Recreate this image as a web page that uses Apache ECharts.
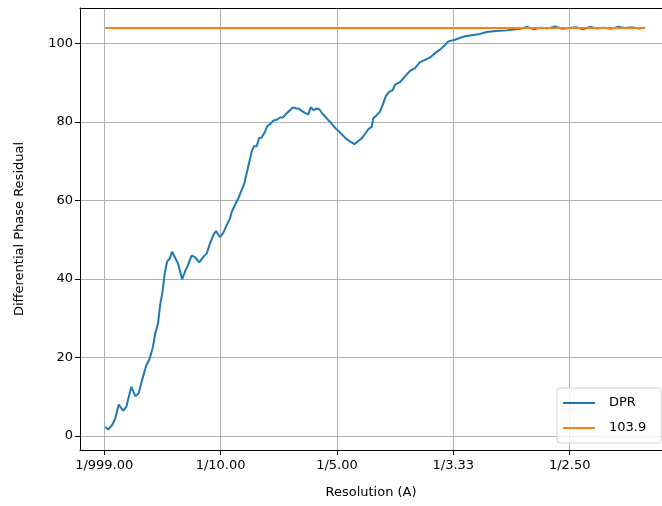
<!DOCTYPE html>
<html>
<head>
<meta charset="utf-8">
<script src="https://cdn.jsdelivr.net/npm/echarts@6/dist/echarts.min.js"></script>
<style>
  html, body { margin: 0; padding: 0; background: #fff; }
  #chart { width: 662px; height: 506px; }
</style>
</head>
<body>
<div id="chart"></div>
<script>
// spatial frequency (1/A)
var freq = [
  0.001, 0.0033, 0.0067, 0.0095, 0.0125, 0.0162, 0.0190, 0.0233, 0.0267, 0.0296,
  0.0325, 0.0362, 0.0391, 0.0419, 0.0439, 0.0462, 0.0482, 0.0499, 0.0520, 0.0540,
  0.0563, 0.0583, 0.0600, 0.0634, 0.0670, 0.0697, 0.0714, 0.0752, 0.0780, 0.0817,
  0.0852, 0.0881, 0.0909, 0.0937, 0.0961, 0.0995, 0.1023, 0.1053, 0.1081, 0.1096,
  0.1124, 0.1152, 0.1181, 0.1204, 0.1224, 0.1247, 0.1267, 0.1287, 0.1310, 0.1330,
  0.1353, 0.1382, 0.1401, 0.1425, 0.1453, 0.1487, 0.1511, 0.1534, 0.1562, 0.1591,
  0.1625, 0.1648, 0.1671, 0.1697, 0.1725, 0.1754, 0.1774, 0.1797, 0.1826, 0.1848,
  0.1877, 0.1912, 0.1946, 0.1983, 0.2012, 0.2049, 0.2084, 0.2118, 0.2149, 0.2175,
  0.2213, 0.2241, 0.2269, 0.2298, 0.2312, 0.2341, 0.2370, 0.2398, 0.2421, 0.2450,
  0.2479, 0.2499, 0.2542, 0.2585, 0.2628, 0.2671, 0.2714, 0.2757, 0.2800, 0.2843,
  0.2886, 0.2929, 0.2957, 0.3014, 0.3057, 0.3100, 0.3143, 0.3186, 0.3229, 0.3287,
  0.3343, 0.3401, 0.3459, 0.3515, 0.3573, 0.3633, 0.3693, 0.3753, 0.3813, 0.3873,
  0.3934, 0.3994, 0.4054, 0.4114, 0.4174, 0.4234, 0.4294, 0.4354, 0.4414, 0.4474,
  0.4534, 0.4594, 0.4647
];
var dpr = [
  2.3, 1.6, 2.7, 4.4, 8.0, 6.4, 7.4, 12.5, 10.1, 10.8,
  14.2, 18.0, 19.7, 22.7, 26.1, 28.6, 33.7, 36.3, 41.4, 44.3,
  45.2, 46.9, 47.3, 43.9, 39.9, 42.1, 43.1, 46.0, 45.5, 44.2,
  45.6, 46.5, 49.0, 51.1, 52.2, 50.6, 51.7, 53.7, 55.4, 57.1,
  58.8, 60.5, 62.6, 64.3, 66.9, 69.8, 72.4, 73.8, 73.8, 75.8,
  76.0, 77.5, 78.9, 79.4, 80.3, 80.6, 81.1, 81.1, 82.0, 82.8,
  83.7, 83.4, 83.4, 82.8, 82.3, 81.9, 83.7, 83.0, 83.4, 83.2,
  82.0, 80.9, 79.8, 78.5, 77.7, 76.6, 75.6, 74.9, 74.3, 74.9,
  75.8, 76.9, 78.1, 78.7, 80.9, 81.7, 82.6, 84.7, 86.6, 87.7,
  88.1, 89.5, 90.1, 91.6, 93.0, 93.7, 95.2, 95.8, 96.4, 97.5,
  98.4, 99.6, 100.5, 100.9, 101.4, 101.8, 102.0, 102.2, 102.4, 102.9,
  103.1, 103.2, 103.3, 103.5, 103.7, 104.2, 103.6, 104.0, 103.8, 104.3,
  103.7, 103.9, 104.1, 103.6, 104.2, 103.8, 104.0, 103.7, 104.2, 103.9,
  104.1, 103.8, 104.0
];
var threshold = 103.9;

var xTickValues = [0, 0.1, 0.2, 0.3, 0.4];
var xTickLabels = ["1/999.00", "1/10.00", "1/5.00", "1/3.33", "1/2.50"];
var yTickValues = [0, 20, 40, 60, 80, 100];

var chart = echarts.init(document.getElementById("chart"));

var font = "DejaVu Sans";
var xMin = -0.0208, xMax = 0.4793; // right spine sits just past the image edge

chart.setOption({
  animation: false,
  backgroundColor: "#fff",
  grid: {
    left: 80,
    top: 8,
    right: 0,
    bottom: 56,
    show: false,
    containLabel: false
  },
  legend: {
    orient: "vertical",
    left: 557,
    top: 388,
    padding: [8, 15, 8, 6],
    itemWidth: 32,
    itemHeight: 2,
    itemGap: 11,
    backgroundColor: "rgba(255,255,255,0.8)",
    borderColor: "#d0d0d0",
    borderWidth: 1,
    borderRadius: 3,
    textStyle: { fontFamily: font, fontSize: 13, color: "#000", padding: [0, 0, 0, 9], lineHeight: 14 },
    data: [
      { name: "DPR", icon: "rect", itemStyle: { color: "#1f77b4" } },
      { name: "103.9", icon: "rect", itemStyle: { color: "#ff7f0e" } }
    ]
  },
  xAxis: [
    {
      type: "value",
      min: xMin,
      max: xMax,
      name: "Resolution (A)",
      nameLocation: "middle",
      nameGap: 36,
      nameTextStyle: { fontFamily: font, fontSize: 13, color: "#000" },
      axisLine: { show: true, onZero: false, lineStyle: { color: "#000", width: 1 } },
      axisTick: { show: true, length: 5, inside: false, customValues: xTickValues, lineStyle: { color: "#000" } },
      axisLabel: {
        customValues: xTickValues,
        fontFamily: font,
        fontSize: 13,
        color: "#000",
        margin: 9,
        formatter: function (v) {
          var i = xTickValues.indexOf(v);
          return i >= 0 ? xTickLabels[i] : "";
        }
      },
      splitLine: { show: true, lineStyle: { color: "#b0b0b0", width: 1 } }
    },
    {
      // top spine only
      type: "value",
      position: "top",
      min: xMin,
      max: xMax,
      axisLine: { show: true, onZero: false, lineStyle: { color: "#000", width: 1 } },
      axisTick: { show: false },
      axisLabel: { show: false },
      splitLine: { show: false }
    }
  ],
  yAxis: {
    type: "value",
    min: -3.6,
    max: 109.0,
    name: "Differential Phase Residual",
    nameLocation: "middle",
    nameGap: 54,
    nameRotate: 90,
    nameTextStyle: { fontFamily: font, fontSize: 13, color: "#000" },
    axisLine: { show: true, onZero: false, lineStyle: { color: "#000", width: 1 } },
    axisTick: { show: true, length: 5, inside: false, customValues: yTickValues, lineStyle: { color: "#000" } },
    axisLabel: {
      customValues: yTickValues,
      fontFamily: font,
      fontSize: 13,
      color: "#000",
      margin: 7
    },
    splitLine: { show: true, lineStyle: { color: "#b0b0b0", width: 1 } }
  },
  series: [
    {
      name: "DPR",
      type: "line",
      symbol: "none",
      clip: true,
      lineStyle: { color: "#1f77b4", width: 2 },
      itemStyle: { color: "#1f77b4" },
      data: freq.map(function (f, i) { return [f, dpr[i]]; })
    },
    {
      name: "103.9",
      type: "line",
      symbol: "none",
      clip: true,
      lineStyle: { color: "#ff7f0e", width: 2 },
      itemStyle: { color: "#ff7f0e" },
      data: [[freq[0], threshold], [freq[freq.length - 1], threshold]]
    }
  ]
});
</script>
</body>
</html>
